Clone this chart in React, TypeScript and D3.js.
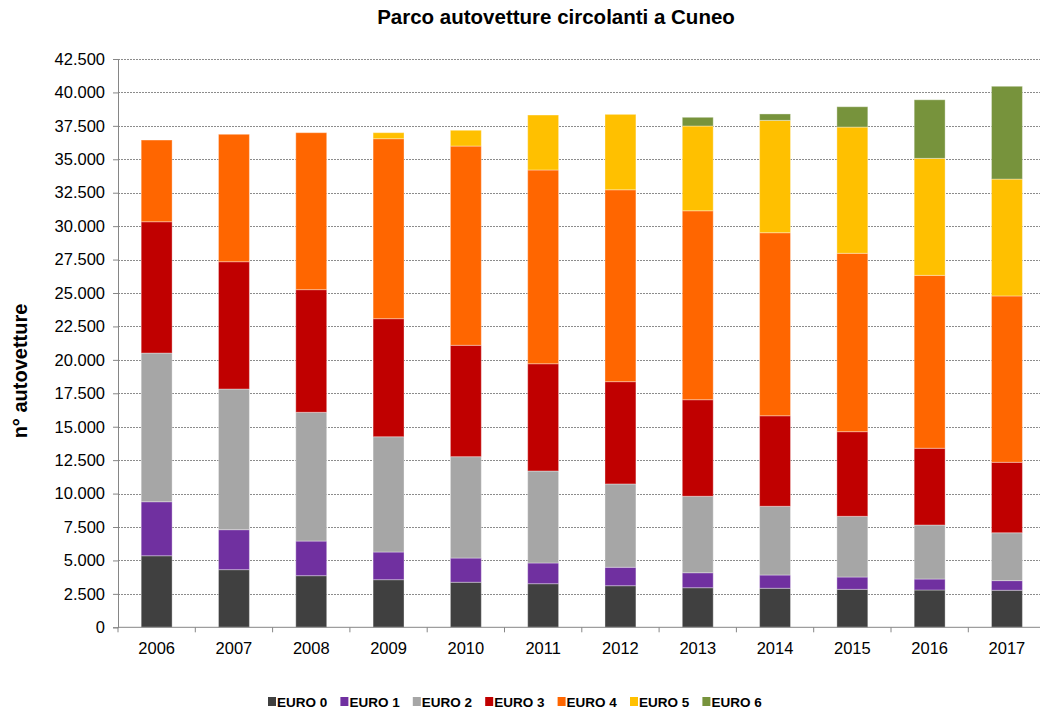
import { useEffect, useRef } from 'react'
import * as d3 from 'd3'

const years = ['2006', '2007', '2008', '2009', '2010', '2011', '2012', '2013', '2014', '2015', '2016', '2017']
const euro0 = [5350, 4310, 3860, 3560, 3370, 3260, 3110, 2960, 2920, 2840, 2790, 2770]
const euro1 = [4040, 2990, 2590, 2070, 1810, 1550, 1380, 1120, 990, 920, 820, 720]
const euro2 = [11120, 10520, 9630, 8620, 7580, 6880, 6230, 5720, 5140, 4540, 4040, 3580]
const euro3 = [9820, 9520, 9170, 8830, 8330, 8020, 7650, 7220, 6770, 6330, 5740, 5270]
const euro4 = [6110, 9530, 11740, 13460, 14900, 14490, 14350, 14130, 13690, 13340, 12930, 12440]
const euro5 = [0, 0, 0, 450, 1180, 4110, 5640, 6340, 8400, 9440, 8750, 8740]
const euro6 = [0, 0, 0, 0, 0, 0, 0, 650, 480, 1520, 4380, 6940]

const seriesNames = ['EURO 0', 'EURO 1', 'EURO 2', 'EURO 3', 'EURO 4', 'EURO 5', 'EURO 6']
const seriesColors = ['#404040', '#7030a0', '#a6a6a6', '#c00000', '#ff6600', '#ffc000', '#77933c']
const yTicks = d3.range(0, 42501, 2500)

export default function App() {
  const ref = useRef<SVGSVGElement>(null)

  useEffect(() => {
    if (!ref.current) return
    const el = ref.current
    const width = 1040
    const height = 709
    const left = 118
    const top = 59
    const bottom = 627.3
    const band = 77.3

    d3.select(el).selectAll('*').remove()
    const svg = d3.select(el).attr('width', width).attr('height', height)
    const font = 'Arial, "Liberation Sans", sans-serif'

    const rows = years.map((y, i) => ({
      year: y,
      'EURO 0': euro0[i], 'EURO 1': euro1[i], 'EURO 2': euro2[i], 'EURO 3': euro3[i],
      'EURO 4': euro4[i], 'EURO 5': euro5[i], 'EURO 6': euro6[i],
    }))
    const stacked = d3.stack<any>().keys(seriesNames)(rows)

    const x = d3.scaleBand().domain(years).range([left, left + band * years.length]).paddingInner(0.6).paddingOuter(0.3)
    const y = d3.scaleLinear().domain([0, 42500]).range([bottom, top])
    const fmt = d3.formatLocale({ decimal: ',', thousands: '.', grouping: [3], currency: ['', '€'] }).format(',')

    // gridlines
    svg.append('g')
      .selectAll('line')
      .data(yTicks.filter(t => t > 0))
      .join('line')
      .attr('x1', left).attr('x2', width)
      .attr('y1', d => Math.round(y(d)) + 0.5).attr('y2', d => Math.round(y(d)) + 0.5)
      .attr('stroke', '#8c8c8c')
      .attr('stroke-width', 1)
      .attr('stroke-dasharray', '2,1')

    // bars
    svg.append('g')
      .selectAll('g')
      .data(stacked)
      .join('g')
      .attr('fill', (_, i) => seriesColors[i])
      .selectAll('rect')
      .data(d => d.filter(s => s[1] - s[0] > 0))
      .join('rect')
      .attr('x', d => x(d.data.year)!)
      .attr('width', x.bandwidth())
      .attr('y', d => y(d[1]))
      .attr('height', d => y(d[0]) - y(d[1]))
      .attr('stroke', 'rgba(255,255,255,0.35)')
      .attr('stroke-width', 1)

    // y axis
    svg.append('g')
      .attr('transform', `translate(${left},0)`)
      .call(d3.axisLeft(y).tickValues(yTicks).tickSize(5).tickPadding(8).tickFormat(d => fmt(d as number)))
      .call(g => {
        g.select('.domain').attr('stroke', '#868686')
        g.selectAll('line').attr('stroke', '#868686')
        g.selectAll('text').attr('fill', '#000').attr('font-size', '16.5px').attr('font-family', font)
      })

    // x axis
    const xEdges = d3.range(years.length + 1).map(i => left + band * i)
    const xa = svg.append('g')
    xa.append('line')
      .attr('x1', left).attr('x2', width)
      .attr('y1', bottom).attr('y2', bottom)
      .attr('stroke', '#868686')
    xa.selectAll('line.tick')
      .data(xEdges)
      .join('line')
      .attr('class', 'tick')
      .attr('x1', d => d).attr('x2', d => d)
      .attr('y1', bottom).attr('y2', bottom + 5)
      .attr('stroke', '#868686')
    xa.selectAll('text')
      .data(years)
      .join('text')
      .attr('x', d => x(d)! + x.bandwidth() / 2)
      .attr('y', 654)
      .attr('text-anchor', 'middle')
      .attr('font-size', '16.5px')
      .attr('font-family', font)
      .text(d => d)

    // title
    svg.append('text')
      .attr('x', 556).attr('y', 24)
      .attr('text-anchor', 'middle')
      .attr('font-size', '20.5px')
      .attr('font-weight', 'bold')
      .attr('font-family', font)
      .text('Parco autovetture circolanti a Cuneo')

    // y label
    svg.append('text')
      .attr('transform', 'translate(27,371) rotate(-90)')
      .attr('text-anchor', 'middle')
      .attr('font-size', '20px')
      .attr('font-weight', 'bold')
      .attr('font-family', font)
      .text('n° autovetture')

    // legend
    const lg = svg.append('g')
      .selectAll('g')
      .data(seriesNames)
      .join('g')
      .attr('transform', (_, i) => `translate(${268 + i * 72.4},0)`)
    lg.append('rect')
      .attr('x', 0).attr('y', 697).attr('width', 8).attr('height', 9)
      .attr('fill', (_, i) => seriesColors[i])
    lg.append('text')
      .attr('x', 9).attr('y', 707)
      .attr('font-size', '13.5px')
      .attr('font-weight', 'bold')
      .attr('font-family', font)
      .text(d => d)
  }, [])

  return <svg ref={ref} style={{ position: 'absolute', left: 0, top: 0, display: 'block' }} />
}
